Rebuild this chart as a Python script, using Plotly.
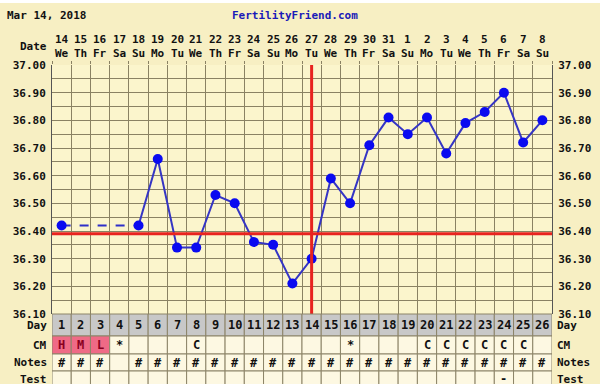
import plotly.graph_objects as go

# ---------------- data ----------------
cycle_days = list(range(1, 27))
dates = ["14", "15", "16", "17", "18", "19", "20", "21", "22", "23", "24", "25", "26",
         "27", "28", "29", "30", "31", "1", "2", "3", "4", "5", "6", "7", "8"]
weekdays = ["We", "Th", "Fr", "Sa", "Su", "Mo", "Tu", "We", "Th", "Fr", "Sa", "Su", "Mo",
            "Tu", "We", "Th", "Fr", "Sa", "Su", "Mo", "Tu", "We", "Th", "Fr", "Sa", "Su"]
temps = [36.42, None, None, None, 36.42, 36.66, 36.34, 36.34, 36.53, 36.50, 36.36, 36.35, 36.21,
         36.30, 36.59, 36.50, 36.71, 36.81, 36.75, 36.81, 36.68, 36.79, 36.83, 36.90, 36.72, 36.80]
cm = ["H", "M", "L", "*", "", "", "", "C", "", "", "", "", "",
      "", "", "*", "", "", "", "C", "C", "C", "C", "C", "C", ""]
notes = ["#", "#", "#", "", "#", "#", "#", "#", "#", "#", "#", "#", "#",
         "#", "#", "#", "#", "#", "#", "#", "#", "#", "#", "#", "#", "#"]
tests = [""] * 23 + ["-", "", ""]
coverline = 36.39
ovulation_day = 14
y_ticks = [37.00, 36.90, 36.80, 36.70, 36.60, 36.50, 36.40, 36.30, 36.20, 36.10]
title_date = "Mar 14, 2018"
site = "FertilityFriend.com"

# ---------------- layout helpers ----------------
W, H = 600, 384
M_T, M_B, M_L, M_R = 65, 0, 52, 48
PH = H - M_T - M_B
PW = W - M_L - M_R


def py(p):
    """pixel row -> paper y"""
    return (H - M_B - p) / PH


def px(p):
    """pixel column -> paper x"""
    return (p - M_L) / PW


FONT = "DejaVu Sans Mono"
FS = 11
BG = "#f7efc3"
PLOT_BG = "#fbf5cc"
GRID = "#8a8263"
temp_bottom_px = 314

fig = go.Figure()

# dashed connector across missing days
xs_d, ys_d = [], []
prev = None
for d, t in zip(cycle_days, temps):
    if t is None:
        continue
    if prev is not None and d - prev[0] > 1:
        xs_d += [prev[0], d, None]
        ys_d += [prev[1], t, None]
    prev = (d, t)
fig.add_trace(go.Scatter(x=xs_d, y=ys_d, mode="lines",
                         line=dict(color="#2f2fc8", width=2, dash="dash"),
                         hoverinfo="skip", showlegend=False))

fig.add_trace(go.Scatter(x=cycle_days, y=temps, mode="lines+markers",
                         line=dict(color="#3535c4", width=2),
                         marker=dict(color="#0a0af0", size=10),
                         connectgaps=False, showlegend=False))
# invisible trace for right axis
fig.add_trace(go.Scatter(x=[cycle_days[0]], y=[temps[0]], yaxis="y2", mode="markers",
                         marker=dict(opacity=0), showlegend=False, hoverinfo="skip"))

shapes = []
ann = []

# coverline and ovulation line
shapes.append(dict(type="line", xref="paper", yref="y", x0=0, x1=1, y0=coverline, y1=coverline,
                   line=dict(color="#e8231f", width=3), layer="above"))
shapes.append(dict(type="line", xref="x", yref="y", x0=ovulation_day, x1=ovulation_day,
                   y0=36.10, y1=37.00, line=dict(color="#e8231f", width=3), layer="above"))

# white top strip
shapes.append(dict(type="rect", xref="paper", yref="paper", x0=-0.2, x1=1.2,
                   y0=py(3), y1=py(-5), fillcolor="white", line=dict(width=0), layer="below"))

# table
rows = [("Day", 314, 336, "#c8c8c8"), ("CM", 336, 354, "#fdf8e2"),
        ("Notes", 354, 371, "#fdf8e2"), ("Test", 371, 392, "#fdf8e2")]
row_text = {"Day": [str(d) for d in cycle_days], "CM": cm, "Notes": notes, "Test": tests}
for name, top, bot, fill in rows:
    cy = (top + bot) / 2 if name != "Test" else 379
    for i, d in enumerate(cycle_days):
        f = fill
        tcol = "#111111"
        if name == "CM" and cm[i] in ("H", "M", "L"):
            f = "#ef6a86"
            tcol = "#8a0020"
        shapes.append(dict(type="rect", xref="x", yref="paper", x0=d - 0.5, x1=d + 0.5,
                           y0=py(bot), y1=py(top), fillcolor=f,
                           line=dict(color="#8c8468", width=1), layer="above"))
        txt = row_text[name][i]
        if txt:
            ann.append(dict(x=d, xref="x", y=py(cy), yref="paper", text="<b>%s</b>" % txt,
                            showarrow=False, font=dict(family=FONT, size=FS + 1, color=tcol),
                            xanchor="center", yanchor="middle"))
    ann.append(dict(x=0, xref="paper", xshift=-3, y=py(cy), yref="paper",
                    text="<b>%s</b>" % name, showarrow=False,
                    font=dict(family=FONT, size=FS, color="#111111"), xanchor="right", yanchor="middle"))
    ann.append(dict(x=1, xref="paper", xshift=3, y=py(cy), yref="paper",
                    text="<b>%s</b>" % name, showarrow=False,
                    font=dict(family=FONT, size=FS, color="#111111"), xanchor="left", yanchor="middle"))

# date header
for d, ds, wd in zip(cycle_days, dates, weekdays):
    ann.append(dict(x=d, xref="x", y=py(40), yref="paper", text="<b>%s</b>" % ds, showarrow=False,
                    font=dict(family=FONT, size=FS, color="#111111"), xanchor="center", yanchor="middle"))
    ann.append(dict(x=d, xref="x", y=py(53), yref="paper", text="<b>%s</b>" % wd, showarrow=False,
                    font=dict(family=FONT, size=FS, color="#111111"), xanchor="center", yanchor="middle"))
ann.append(dict(x=0, xref="paper", xshift=-3, y=py(46), yref="paper", text="<b>Date</b>", showarrow=False,
                font=dict(family=FONT, size=FS, color="#111111"), xanchor="right", yanchor="middle"))
ann.append(dict(x=px(5), xref="paper", y=py(15), yref="paper", text="<b>%s</b>" % title_date,
                showarrow=False, font=dict(family=FONT, size=FS, color="#111111"),
                xanchor="left", yanchor="middle"))
ann.append(dict(x=px(295), xref="paper", y=py(15), yref="paper",
                text="<b>%s</b>" % site, showarrow=False,
                font=dict(family=FONT, size=FS, color="#1a1ab8"), xanchor="center", yanchor="middle"))

ydom = [py(temp_bottom_px), 1]
yaxis_common = dict(range=[36.10, 37.00], domain=ydom, tickvals=y_ticks,
                    ticktext=["<b>%.2f</b>" % v for v in y_ticks],
                    tickfont=dict(family=FONT, size=FS, color="#111111"),
                    showgrid=True, gridcolor=GRID, gridwidth=1, zeroline=False,
                    minor=dict(dtick=0.05, tick0=36.10, showgrid=True, gridcolor=GRID, gridwidth=1),
                    fixedrange=True, ticks="", automargin=False, ticklabelstandoff=3)

fig.update_layout(
    width=W, height=H,
    margin=dict(l=M_L, r=M_R, t=M_T, b=M_B, autoexpand=False),
    paper_bgcolor=BG, plot_bgcolor=PLOT_BG,
    xaxis=dict(range=[0.5, 26.5], tickvals=[d + 0.5 for d in [0] + cycle_days],
               showticklabels=False, showgrid=True, gridcolor=GRID, gridwidth=1,
               zeroline=False, side="top", ticks="outside", ticklen=3, tickcolor=GRID,
               anchor="y", showline=False, automargin=False, fixedrange=True),
    yaxis=dict(side="left", showline=True, linecolor="#555555", linewidth=1, **yaxis_common),
    yaxis2=dict(side="right", overlaying="y", showline=True, linecolor="#555555", linewidth=1,
                **yaxis_common),
    shapes=shapes, annotations=ann, showlegend=False, hovermode=False,
)

fig.write_html("out.html", config={"displayModeBar": False, "staticPlot": True},
               post_script="document.body.style.margin='0';document.body.style.overflow='hidden';")
